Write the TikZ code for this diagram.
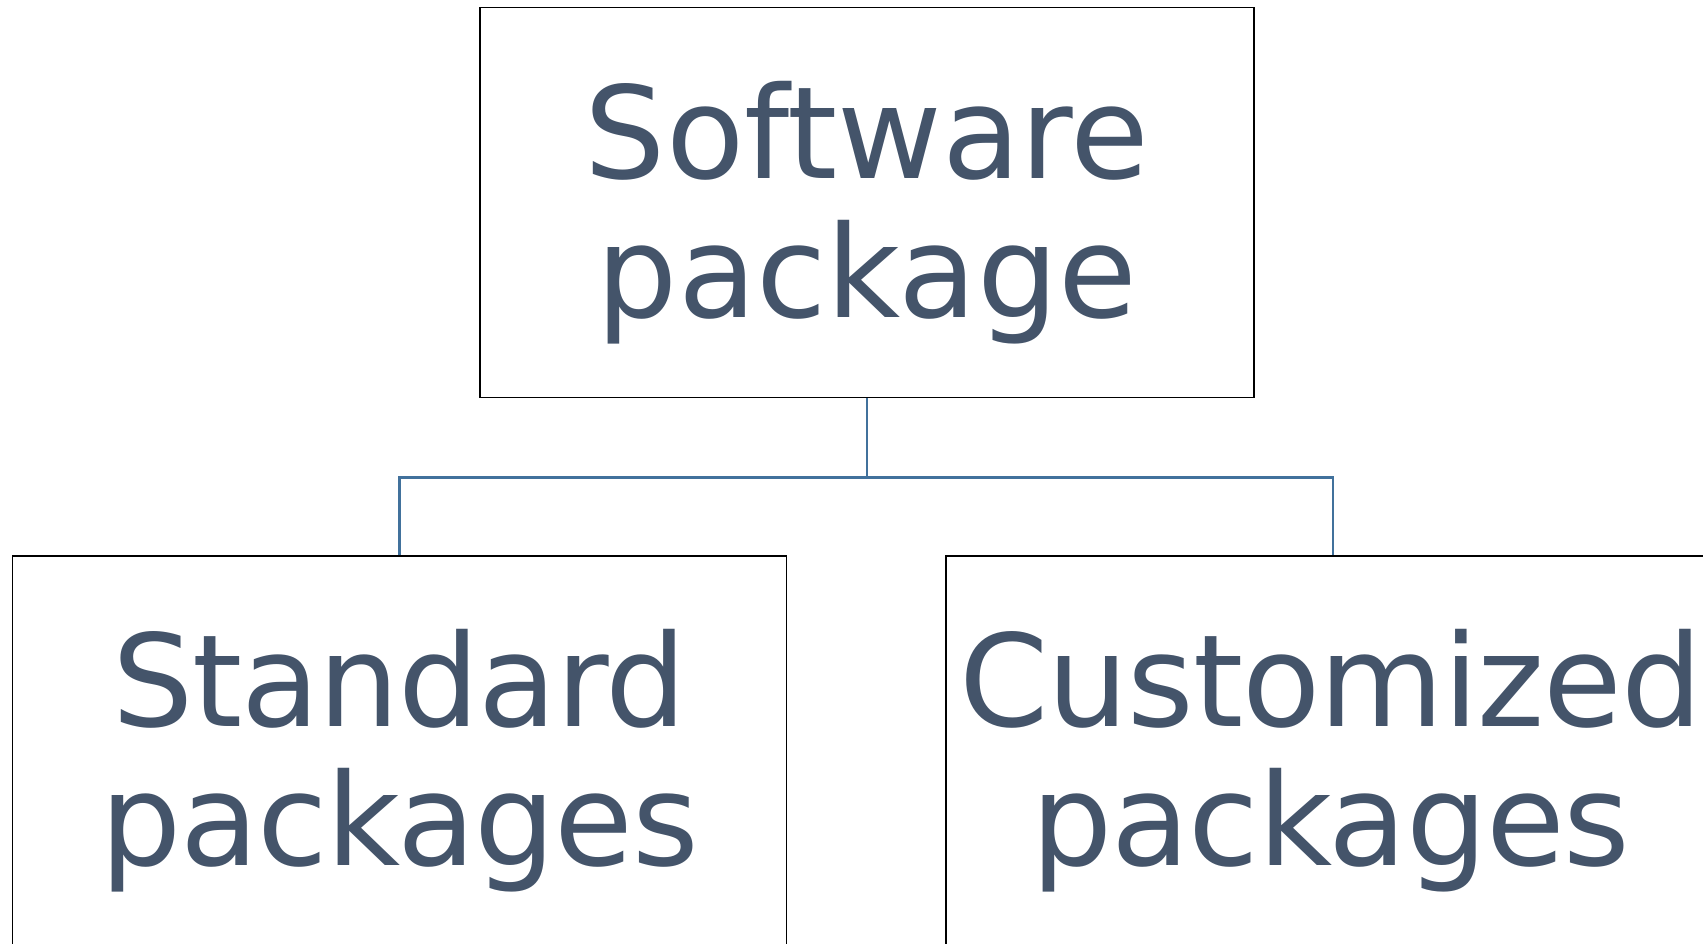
\documentclass[tikz,border=0pt]{standalone}
\usepackage{fontspec}
\setmainfont{DejaVu Sans}
\definecolor{boxtext}{RGB}{68,84,106}
\definecolor{linkblue}{RGB}{65,113,156}
\tikzset{
  pkgbox/.style={draw=black,line width=1.8pt,minimum width=774pt,minimum height=390pt,inner sep=0pt},
  pkgtext/.style={text=boxtext,align=center,font=\fontsize{128}{139}\selectfont},
  tight/.style={font=\fontsize{128}{139}\selectfont\addfontfeature{LetterSpace=-0.9}},
  link/.style={draw=linkblue,line width=2.8pt}
}
\begin{document}
\begin{tikzpicture}[x=1pt,y=1pt]
\useasboundingbox (0,0) rectangle (1703,-944);

% Boxes
\node[pkgbox] (soft) at (867,-202.5) {};
\node[pkgbox] (std) at (399.5,-751) {};
\node[pkgbox] (cust) at (1333,-751) {};

% Labels
\node[pkgtext] (softtxt) at ([yshift=-10pt]soft.center) {Software\\package};
\node[pkgtext,tight] (stdtxt) at ([yshift=-10pt]std.center) {Standard\\packages};
\node[pkgtext,tight] (custtxt) at ([xshift=-2pt,yshift=-10pt]cust.center) {Customized\\packages};

% Connectors
\coordinate (fork) at ([yshift=-79pt]soft.south);
\draw[link] (soft.south) -- (fork);
\draw[link] (fork) -| (std.north);
\draw[link] (fork) -| (cust.north);
\end{tikzpicture}
\end{document}
